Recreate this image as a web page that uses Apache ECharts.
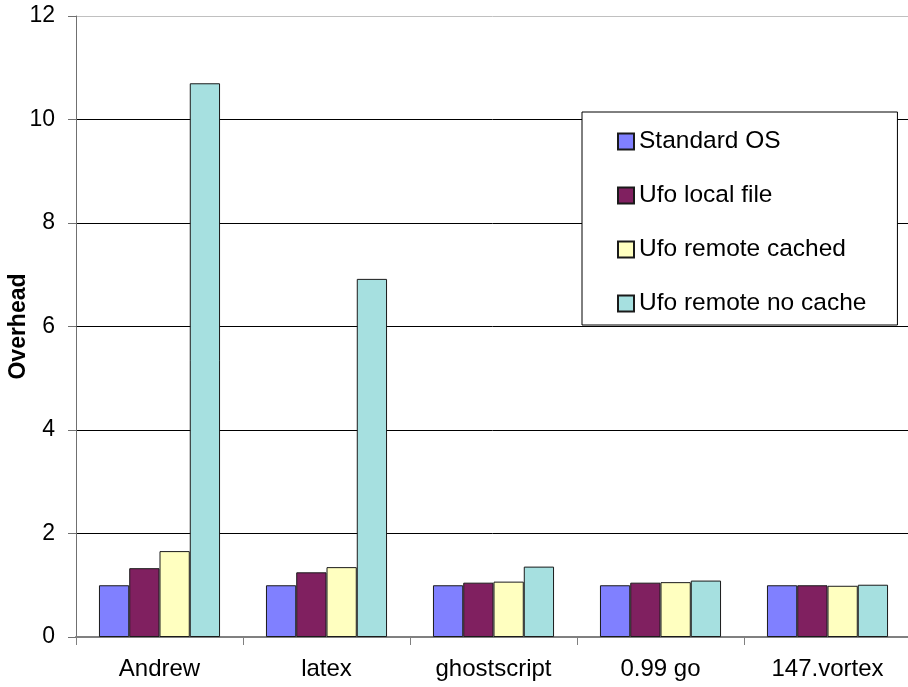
<!DOCTYPE html>
<html>
<head>
<meta charset="utf-8">
<style>
  html, body { margin: 0; padding: 0; background: #ffffff; }
  #chart { width: 908px; height: 687px; }
</style>
<script src="https://cdn.jsdelivr.net/npm/echarts@6/dist/echarts.min.js"></script>
</head>
<body>
<div id="chart"></div>
<script>
// Benchmarks and relative overhead per configuration
const categories = ['Andrew', 'latex', 'ghostscript', '0.99 go', '147.vortex'];
const standardOS = [1.00, 1.00, 1.00, 1.00, 1.00];
const ufoLocalFile = [1.33, 1.25, 1.05, 1.05, 1.00];
const ufoRemoteCached = [1.66, 1.35, 1.07, 1.06, 0.99];
const ufoRemoteNoCache = [10.70, 6.92, 1.36, 1.09, 1.01];
const seriesNames = ['Standard OS', 'Ufo local file', 'Ufo remote cached', 'Ufo remote no cache'];
const yTicks = [0, 2, 4, 6, 8, 10, 12];

const FONT = "'Liberation Sans', Arial, sans-serif";
const colors = ['#8080FF', '#802060', '#FFFFC0', '#A6E0E0'];
const values = [standardOS, ufoLocalFile, ufoRemoteCached, ufoRemoteNoCache];

const chart = echarts.init(document.getElementById('chart'), null, { renderer: 'canvas' });

chart.setOption({
  animation: false,
  backgroundColor: '#ffffff',
  grid: { left: 76, right: -3, top: 16, bottom: 50, containLabel: false, outerBoundsMode: 'none' },
  legend: {
    orient: 'vertical',
    left: 582,
    top: 112,
    padding: [17, 31, 9, 35],
    itemGap: 29,
    itemWidth: 16,
    itemHeight: 16,
    backgroundColor: '#ffffff',
    borderColor: '#000000',
    borderWidth: 1,
    borderRadius: 0,
    icon: 'rect',
    data: seriesNames,
    textStyle: { fontFamily: FONT, fontSize: 24.5, color: '#000000', lineHeight: 24 }
  },
  xAxis: {
    type: 'category',
    data: categories,
    axisLine: { lineStyle: { color: '#808080', width: 2 } },
    axisTick: { show: true, length: 8, lineStyle: { color: '#808080', width: 1 } },
    axisLabel: { fontFamily: FONT, fontSize: 24, color: '#000000', margin: 20 },
    splitLine: { show: false }
  },
  yAxis: {
    type: 'value',
    min: yTicks[0],
    max: yTicks[yTicks.length - 1],
    interval: 2,
    name: 'Overhead',
    nameLocation: 'middle',
    nameGap: 46,
    nameMoveOverlap: false,
    nameRotate: 90,
    nameTextStyle: { fontFamily: FONT, fontSize: 23, fontWeight: 'bold', color: '#000000' },
    axisLine: { show: true, lineStyle: { color: '#707070', width: 1 } },
    axisTick: { show: true, length: 8, lineStyle: { color: '#707070', width: 1 } },
    axisLabel: { fontFamily: FONT, fontSize: 23, color: '#000000', margin: 21 },
    splitLine: {
      show: true,
      lineStyle: { color: ['#000000', '#000000', '#000000', '#000000', '#000000', '#000000', '#c0c0c0'], width: 1 }
    }
  },
  series: seriesNames.map((name, i) => ({
    name: name,
    type: 'bar',
    data: values[i],
    barGap: '0%',
    barCategoryGap: '27.5%',
    itemStyle: { color: colors[i], borderColor: '#1a1a1a', borderWidth: 1 }
  }))
});
</script>
</body>
</html>
